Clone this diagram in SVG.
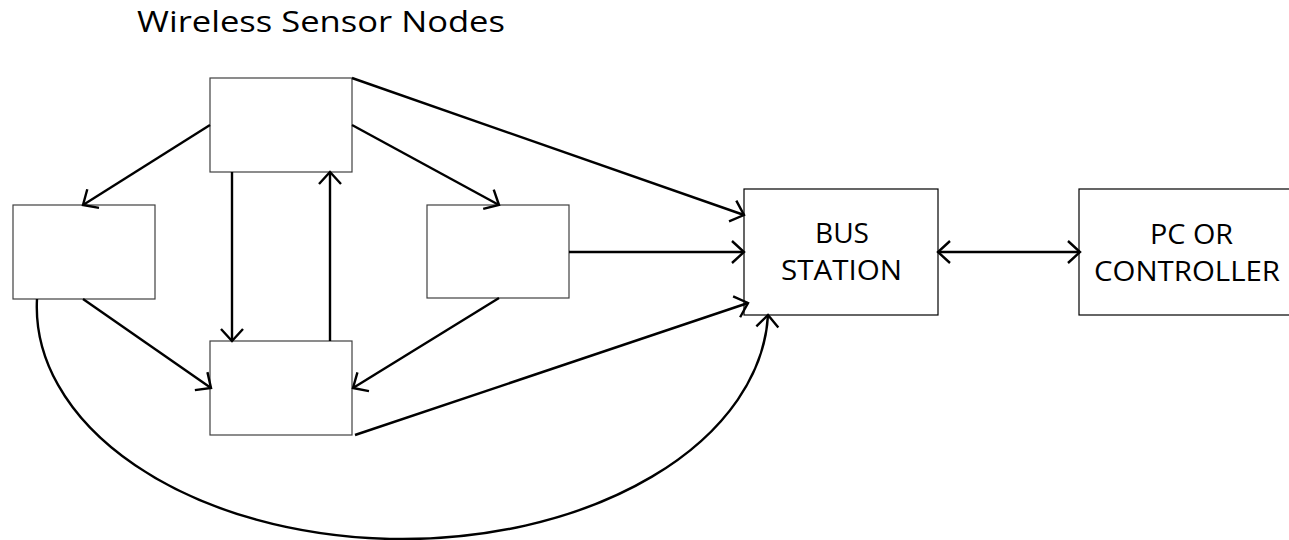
<svg xmlns="http://www.w3.org/2000/svg" width="1289" height="540" viewBox="0 0 1289 540">
  <style>
    .node rect { fill: #ffffff; stroke: #404040; stroke-width: 1.2; }
    .node.dark rect { stroke: #000000; }
    .label { font-family: "Open Sans", "Liberation Sans", sans-serif; font-size: 27px; fill: #000000; }
    .title { font-size: 29px; }
    .link { fill: none; stroke: #000000; stroke-width: 2.4; }
  </style>
  <defs>
    <marker id="arrow" markerUnits="userSpaceOnUse" viewBox="-15 -13 18 26" refX="0" refY="0" markerWidth="18" markerHeight="26" orient="auto">
      <path d="M-12,-11 L0,0 L-12,11" fill="none" stroke="#000000" stroke-width="2.4" stroke-linejoin="miter"/>
    </marker>
    <marker id="arrow-start" markerUnits="userSpaceOnUse" viewBox="-3 -13 18 26" refX="0" refY="0" markerWidth="18" markerHeight="26" orient="auto">
      <path d="M12,-11 L0,0 L12,11" fill="none" stroke="#000000" stroke-width="2.4" stroke-linejoin="miter"/>
    </marker>
  </defs>

  <rect x="0" y="0" width="1289" height="540" fill="#ffffff"/>

  <text id="title" class="label title" x="137" y="32" textLength="368" lengthAdjust="spacingAndGlyphs">Wireless Sensor Nodes</text>

  <!-- sensor nodes -->
  <g id="node-top" class="node"><rect x="210" y="78" width="142" height="94"/></g>
  <g id="node-left" class="node"><rect x="13" y="205" width="142" height="94"/></g>
  <g id="node-right" class="node"><rect x="427" y="205" width="142" height="93"/></g>
  <g id="node-bottom" class="node"><rect x="210" y="341" width="142" height="94"/></g>

  <!-- bus station -->
  <g id="bus-station" class="node dark">
    <rect x="744" y="189" width="194" height="126"/>
    <text class="label" x="815" y="243" textLength="54" lengthAdjust="spacingAndGlyphs">BUS</text>
    <text class="label" x="781" y="280" textLength="121" lengthAdjust="spacingAndGlyphs">STATION</text>
  </g>

  <!-- PC / controller, extends past the right edge -->
  <g id="pc-controller" class="node dark">
    <rect x="1079" y="189" width="220" height="126"/>
    <text class="label" x="1150" y="244" textLength="83" lengthAdjust="spacingAndGlyphs">PC OR</text>
    <text class="label" x="1094" y="281" textLength="186" lengthAdjust="spacingAndGlyphs">CONTROLLER</text>
  </g>

  <!-- connectors -->
  <g id="connectors">
    <path class="link" d="M210,125 L83,205" marker-end="url(#arrow)"/>
    <path class="link" d="M232,172 L232,341" marker-end="url(#arrow)"/>
    <path class="link" d="M330,341 L330,172" marker-end="url(#arrow)"/>
    <path class="link" d="M83,299 L211,388" marker-end="url(#arrow)"/>
    <path class="link" d="M499,298 L353,388" marker-end="url(#arrow)"/>
    <path class="link" d="M352,125 L499,205" marker-end="url(#arrow)"/>
    <path class="link" d="M352,78 L744,215" marker-end="url(#arrow)"/>
    <path class="link" d="M569,252 L744,252" marker-end="url(#arrow)"/>
    <path class="link" d="M355,435 L748,303" marker-end="url(#arrow)"/>
    <path class="link" d="M37,299 A365.5,232 0 0 0 768,315" marker-end="url(#arrow)"/>
    <path class="link" d="M938,252 L1080,252" marker-start="url(#arrow-start)" marker-end="url(#arrow)"/>
  </g>
</svg>
